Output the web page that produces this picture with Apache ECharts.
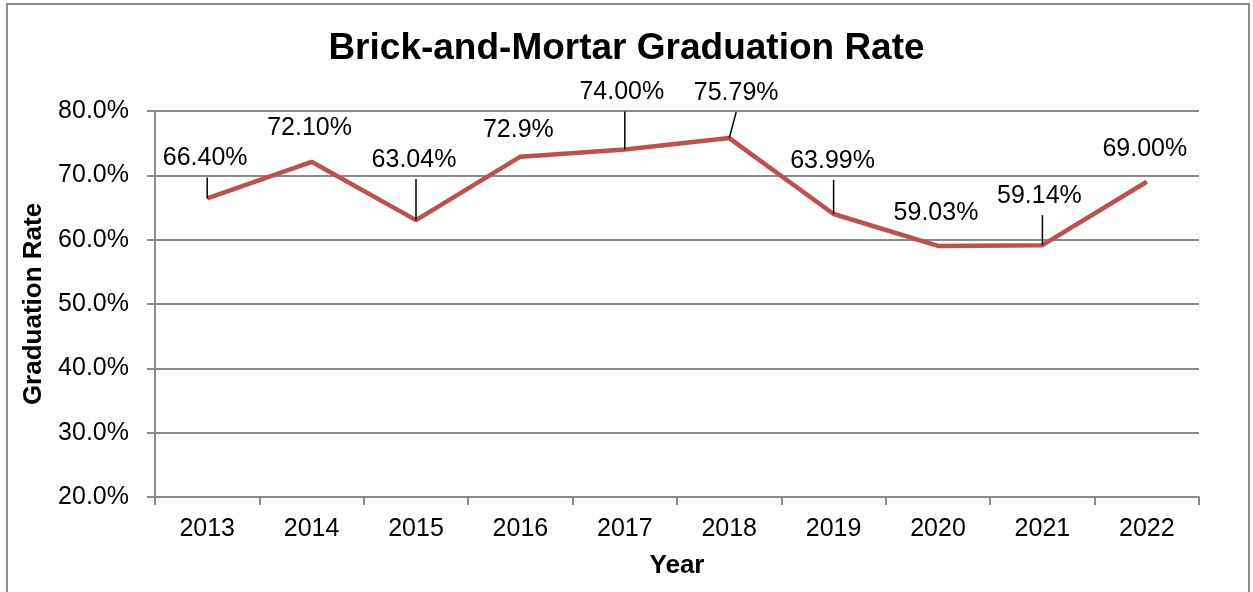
<!DOCTYPE html>
<html>
<head>
<meta charset="utf-8">
<script src="https://cdn.jsdelivr.net/npm/echarts@6/dist/echarts.min.js"></script>
<style>
html,body{margin:0;padding:0;background:#fff;}
#chart{width:1253px;height:592px;}
</style>
</head>
<body>
<div id="chart"></div>
<script>
const years = ['2013','2014','2015','2016','2017','2018','2019','2020','2021','2022'];
const rates = [66.40, 72.10, 63.04, 72.9, 74.00, 75.79, 63.99, 59.03, 59.14, 69.00];
const rateLabels = ['66.40%','72.10%','63.04%','72.9%','74.00%','75.79%','63.99%','59.03%','59.14%','69.00%'];
const yTicks = [20, 30, 40, 50, 60, 70, 80];

// label placement (style): offset of label centre from its point, and whether a leader line is drawn
const labelPlacement = [
  {dx:-2, dy:-40, leader:true},
  {dx:-2, dy:-34, leader:false},
  {dx:-2, dy:-60, leader:true},
  {dx:-2, dy:-27, leader:false},
  {dx:-3, dy:-57, leader:true},
  {dx:7,  dy:-45, leader:true},
  {dx:-1, dy:-53, leader:true},
  {dx:-2, dy:-33, leader:false},
  {dx:-3, dy:-49, leader:true},
  {dx:-2, dy:-33, leader:false}
];

const FONT = "'Liberation Sans', Arial, sans-serif";
const chart = echarts.init(document.getElementById('chart'), null, {renderer:'canvas'});

const option = {
  animation: false,
  backgroundColor: '#fff',
  title: {
    text: 'Brick-and-Mortar Graduation Rate',
    left: 'center',
    top: 25,
    textStyle: {fontFamily: FONT, fontSize: 37, fontWeight: 'bold', color: '#000'}
  },
  graphic: [{
    type: 'rect',
    shape: {x: 7, y: 4, width: 1242, height: 620},
    style: {fill: 'none', stroke: '#8c8c8c', lineWidth: 2},
    silent: true
  }],
  grid: {left: 155, right: 54, top: 111, bottom: 95},
  xAxis: {
    type: 'category',
    data: years,
    boundaryGap: true,
    name: 'Year',
    nameLocation: 'middle',
    nameGap: 56,
    nameTextStyle: {fontFamily: FONT, fontSize: 26, fontWeight: 'bold', color: '#000'},
    axisLine: {lineStyle: {color: '#8c8c8c', width: 2}},
    axisTick: {show: true, length: 8, alignWithLabel: false, lineStyle: {color: '#8c8c8c', width: 2}},
    axisLabel: {fontFamily: FONT, fontSize: 25, color: '#000', margin: 20, interval: 0}
  },
  yAxis: {
    type: 'value',
    min: yTicks[0],
    max: yTicks[yTicks.length - 1],
    interval: 10,
    name: 'Graduation Rate',
    nameLocation: 'middle',
    nameGap: 106,
    nameRotate: 90,
    nameTextStyle: {fontFamily: FONT, fontSize: 26, fontWeight: 'bold', color: '#000'},
    axisLine: {show: true, lineStyle: {color: '#8c8c8c', width: 2}},
    axisTick: {show: true, length: 8, lineStyle: {color: '#8c8c8c', width: 2}},
    axisLabel: {fontFamily: FONT, fontSize: 25, color: '#000', margin: 26,
      formatter: v => v.toFixed(1) + '%'},
    splitLine: {show: true, lineStyle: {color: '#8c8c8c', width: 2}}
  },
  series: [
    {
      type: 'line',
      data: rates,
      symbol: 'none',
      lineStyle: {color: '#c0504d', width: 4.5},
      z: 3
    },
    {
      type: 'custom',
      data: rates.map((v, i) => [i, v]),
      clip: false,
      z: 4,
      renderItem: function (params, api) {
        const i = params.dataIndex;
        const pt = api.coord([api.value(0), api.value(1)]);
        const p = labelPlacement[i];
        const lx = pt[0] + p.dx, ly = pt[1] + p.dy;
        const children = [{
          type: 'text',
          x: lx, y: ly,
          style: {text: rateLabels[i], fill: '#000', fontSize: 25, fontFamily: FONT,
                  align: 'center', verticalAlign: 'middle'}
        }];
        if (p.leader) {
          const topX = Math.abs(p.dx) > 4 ? lx : pt[0];
          children.push({
            type: 'line',
            shape: {x1: topX, y1: ly + 19, x2: pt[0], y2: pt[1]},
            style: {stroke: '#000', lineWidth: 1.5}
          });
        }
        return {type: 'group', children: children};
      }
    }
  ]
};
chart.setOption(option);
</script>
</body>
</html>
